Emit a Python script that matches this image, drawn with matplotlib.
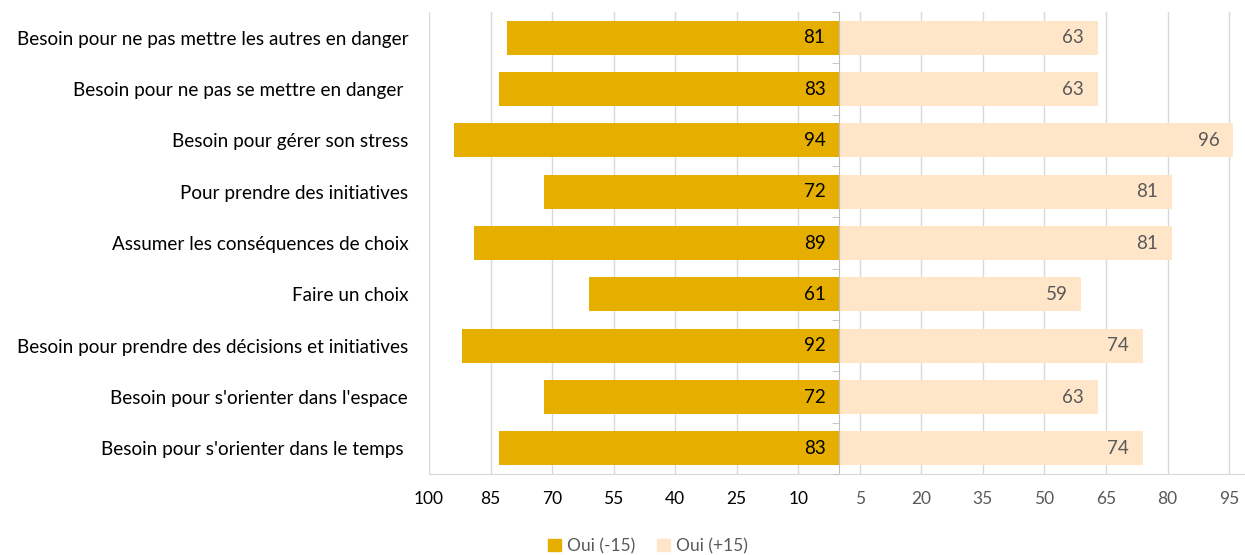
import numpy as np
import matplotlib.pyplot as plt
from matplotlib.patches import Patch

plt.rcParams['font.family'] = ['Lato', 'DejaVu Sans']

categories = [
    "Besoin pour ne pas mettre les autres en danger",
    "Besoin pour ne pas se mettre en danger ",
    "Besoin pour gérer son stress",
    "Pour prendre des initiatives",
    "Assumer les conséquences de choix",
    "Faire un choix",
    "Besoin pour prendre des décisions et initiatives",
    "Besoin pour s'orienter dans l'espace",
    "Besoin pour s'orienter dans le temps ",
]
oui_moins15 = [81, 83, 94, 72, 89, 61, 92, 72, 83]
oui_plus15 = [63, 63, 96, 81, 81, 59, 74, 63, 74]
ticks_left = [100, 85, 70, 55, 40, 25, 10]
ticks_right = [5, 20, 35, 50, 65, 80, 95]

gold = '#E6AF00'
peach = '#FFE6C9'
grid = '#D9D9D9'
gray_txt = '#595959'

W, H = 1245, 555
fig = plt.figure(figsize=(W / 100, H / 100), dpi=100)
top, bottom = 12, 474
x0, xc, x1 = 429, 839.3, 1245
axL = fig.add_axes([x0 / W, 1 - bottom / H, (xc - x0) / W, (bottom - top) / H])
axR = fig.add_axes([xc / W, 1 - bottom / H, (x1 - xc) / W, (bottom - top) / H])

y = np.arange(len(categories))
axL.barh(y, oui_moins15, height=0.66, color=gold, zorder=2)
axR.barh(y, oui_plus15, height=0.66, color=peach, zorder=2)

axL.set_xlim(100, 0)
axR.set_xlim(0, (x1 - xc) / ((xc - x0) / 100))
for ax in (axL, axR):
    ax.set_ylim(len(categories) - 0.5, -0.5)
    ax.grid(axis='x', color=grid, lw=1, zorder=0)
    ax.set_axisbelow(True)
    for s in ('top', 'right', 'left'):
        ax.spines[s].set_visible(False)
    ax.spines['bottom'].set_color(grid)
    ax.tick_params(axis='x', length=0, pad=12, labelsize=12.5)

axL.set_xticks(ticks_left)
axL.set_xticklabels([str(t) for t in ticks_left], color='black')
axR.set_xticks(ticks_right)
axR.set_xticklabels([str(t) for t in ticks_right], color=gray_txt)

axL.set_yticks(y)
axL.set_yticklabels(categories, fontsize=13.6)
axL.tick_params(axis='y', length=0, pad=15)

# center line with category separators
axR.spines['left'].set_visible(True)
axR.spines['left'].set_color('#BFBFBF')
axR.set_yticks([])
axR.set_yticks(np.arange(-0.5, len(categories), 1), minor=True)
axR.tick_params(axis='y', which='minor', length=5, color='#BFBFBF', direction='out')

for i, v in enumerate(oui_moins15):
    axL.annotate(str(v), xy=(0, i), xytext=(-10, 0), textcoords='offset points',
                 ha='right', va='center', fontsize=13.5, color='black')
for i, v in enumerate(oui_plus15):
    axR.annotate(str(v), xy=(v, i), xytext=(-10, 0), textcoords='offset points',
                 ha='right', va='center', fontsize=13.5, color=gray_txt)

handles = [Patch(color=gold, label='Oui (-15)'), Patch(color=peach, label='Oui (+15)')]
leg = fig.legend(handles=handles, loc='center', bbox_to_anchor=(648 / W, 1 - 546 / H),
                 ncol=2, frameon=False, fontsize=12.5, handlelength=0.75, handleheight=0.75,
                 handletextpad=0.3, columnspacing=1.3)
for t in leg.get_texts():
    t.set_color(gray_txt)

fig.savefig('out.png', dpi=100)
